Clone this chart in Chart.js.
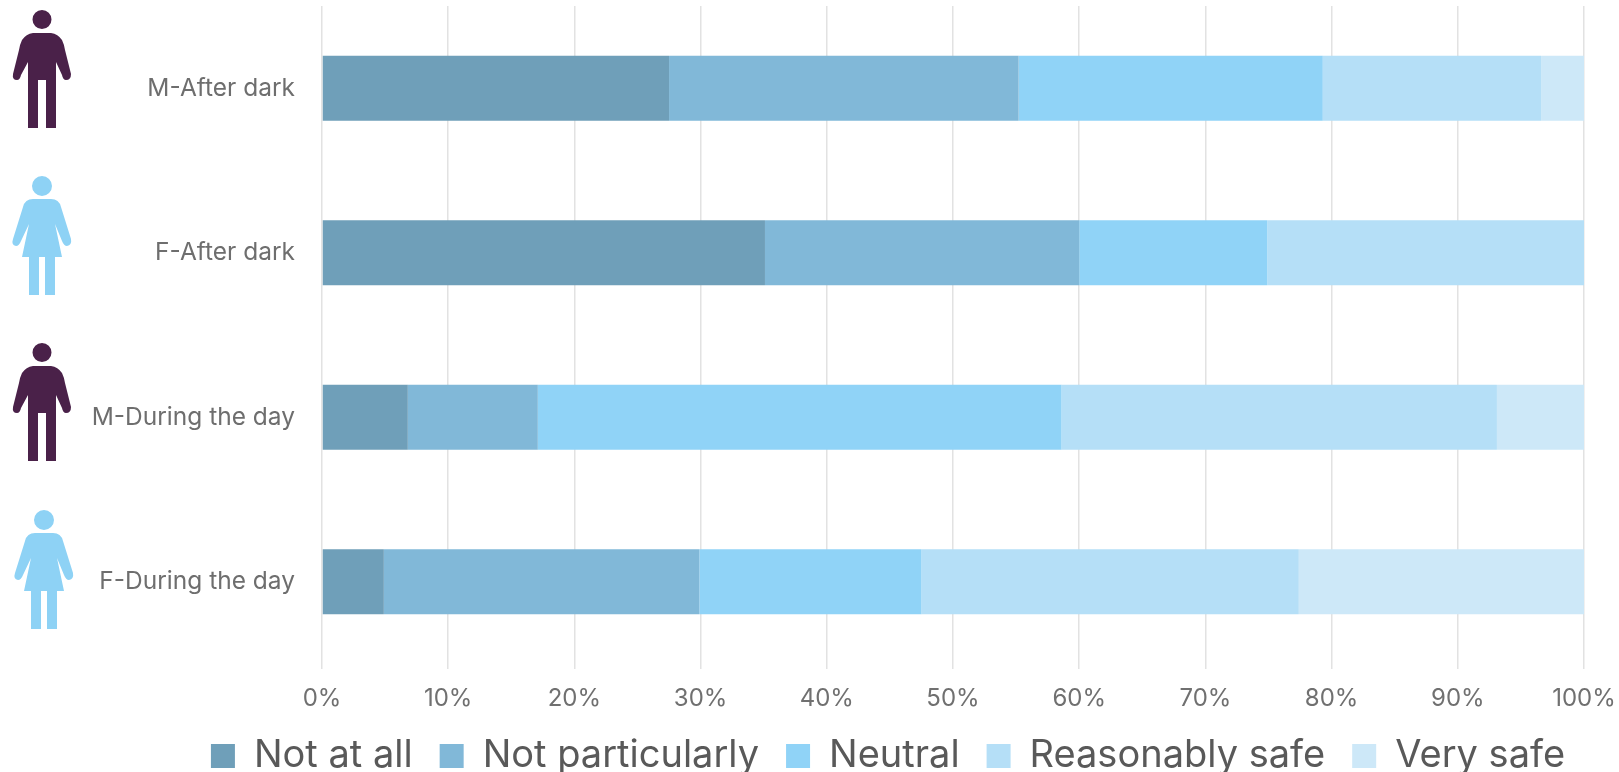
<!DOCTYPE html>
<html>
<head>
<meta charset="utf-8">
<title>Feeling of safety</title>
<style>
  html, body { margin: 0; padding: 0; background: #fff; overflow: hidden; }
  canvas { display: block; }
</style>
<script src="https://cdn.jsdelivr.net/npm/chart.js@4"></script>
</head>
<body>
<canvas id="myChart" width="1619" height="772"></canvas>
<script>
// ============= data =====================
const categories = ["M-After dark", "F-After dark", "M-During the day", "F-During the day"];
const notAtAll = [27.5, 35.1, 6.8, 4.9];
const notParticularly = [27.7, 24.9, 10.3, 25.0];
const neutral = [24.1, 14.9, 41.5, 17.6];
const reasonablySafe = [17.3, 25.1, 34.5, 29.9];
const verySafe = [3.4, 0, 6.9, 22.6];
const percentTicks = [0, 10, 20, 30, 40, 50, 60, 70, 80, 90, 100];
// =================== end of data ========

const textFont = "Inter";

// ============= person icons =============
const manPath = new Path2D("M33 33 L51 33 Q58 34 62 40 Q64 44 65 50 L71 74 Q71 80 66 80 Q63 80 62 75 L56 62 L56 128 L46 128 L46 80 L38 80 L38 128 L28 128 L28 62 L21 75 Q20 80 17 80 Q12 80 13 74 L19 50 Q20 44 22 40 Q26 34 33 33 Z M51.5 19.5 A9.5 9.5 0 1 1 32.5 19.5 A9.5 9.5 0 1 1 51.5 19.5 Z");
const womanPath = new Path2D("M33 33 L51 33 Q59 33 61 41 L71 73 Q72 79 67 80 Q64 80 62 75 L55 58 L62 91 L55 91 L55 129 L45 129 L45 91 L39 91 L39 129 L29 129 L29 91 L22 91 L29 58 L21 75 Q19 80 16 80 Q11 79 13 73 L23 41 Q25 33 33 33 Z M52 20 A10 10 0 1 1 32 20 A10 10 0 1 1 52 20 Z");
const icons = [
  { path: manPath, color: "#4a2149", dx: 0, dy: 0 },
  { path: womanPath, color: "#8ed2f5", dx: 0, dy: 166 },
  { path: manPath, color: "#4a2149", dx: 0, dy: 333 },
  { path: womanPath, color: "#8ed2f5", dx: 2, dy: 500 }
];
const iconPlugin = {
  id: "icons",
  afterDraw(chart) {
    const ctx = chart.ctx;
    icons.forEach(ic => {
      ctx.save();
      ctx.translate(ic.dx, ic.dy);
      ctx.fillStyle = ic.color;
      ctx.fill(ic.path);
      ctx.restore();
    });
  }
};

// legend sits right of the canvas centre and lower than its box in the reference
const legendShift = {
  id: "legendShift",
  afterLayout(chart) {
    chart.legend.left += 96;
    chart.legend.right += 96;
    chart.legend.top = 772 - 60 - chart.legend.options.labels.padding + 25;
    chart.legend.bottom = chart.legend.top + chart.legend.height;
    // x labels get clipped to the axis box, so let it reach down past them
    chart.scales.x.bottom = chart.scales.x.top + 60;
  }
};

function series(label, data, color) {
  return { label: label, data: data, backgroundColor: color, borderWidth: 0,
           barPercentage: 0.396, categoryPercentage: 1 };
}

const ctx = document.querySelector("#myChart").getContext("2d");
const chart = new Chart(ctx, {
  type: "bar",
  plugins: [iconPlugin, legendShift],
  data: {
    labels: categories,
    datasets: [
      series("Not at all", notAtAll, "#6f9fb9"),
      series("Not particularly", notParticularly, "#81b8d8"),
      series("Neutral", neutral, "#90d3f7"),
      series("Reasonably safe", reasonablySafe, "#b5dff7"),
      series("Very safe", verySafe, "#cde8f8")
    ]
  },
  options: {
    indexAxis: "y",
    responsive: false,
    animation: false,
    layout: { autoPadding: false, padding: { top: 6, right: 35, left: 0, bottom: 0 } },
    scales: {
      x: {
        stacked: true,
        min: 0,
        max: 100,
        afterBuildTicks(axis) { axis.ticks = percentTicks.map(v => ({ value: v })); },
        afterFit(axis) { axis.height = 33; axis.paddingLeft = 0; axis.paddingRight = 0; },
        grid: { color: "#e2e2e2", lineWidth: 1.5, tickLength: 5, drawTicks: true },
        border: { display: false },
        ticks: {
          padding: 15,
          maxRotation: 0,
          autoSkip: false,
          color: "#707070",
          font: { family: textFont, size: 24 },
          callback: v => v + "%"
        }
      },
      y: {
        stacked: true,
        grid: { display: false },
        border: { display: false },
        afterFit(axis) { axis.width = 322; axis.paddingTop = 0; axis.paddingBottom = 0; },
        ticks: {
          padding: 19,
          color: "#6e6e6e",
          font: { family: textFont, size: 24.5 }
        }
      }
    },
    plugins: {
      tooltip: { enabled: false },
      legend: {
        position: "bottom",
        labels: {
          boxWidth: 24,
          boxHeight: 24,
          padding: 27,
          color: "#595959",
          font: { family: textFont, size: 38 }
        }
      }
    }
  }
});
</script>
</body>
</html>
